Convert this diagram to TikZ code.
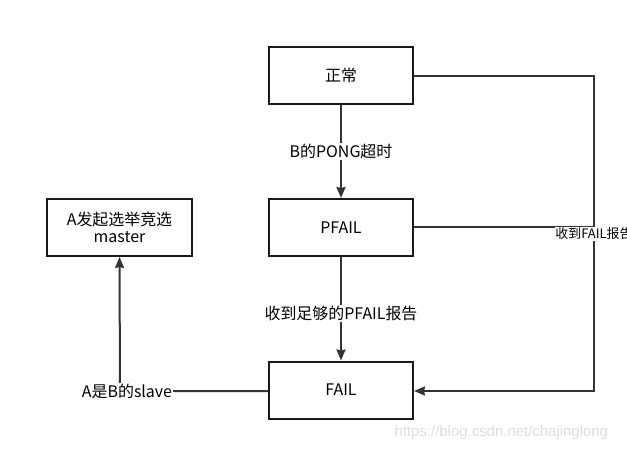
\documentclass[tikz,border=0pt]{standalone}
\usepackage{fontspec}
\setmainfont{Noto Sans CJK SC}
\newfontfamily\wmfont{Liberation Sans}
\usetikzlibrary{arrows.meta}
\begin{document}
\begin{tikzpicture}[x=1bp,y=-1bp,
  statebox/.style={draw=black!90,line width=2bp,minimum width=144bp,minimum height=57bp,inner sep=0pt,font=\fontsize{16}{19}\selectfont,align=center},
  conn/.style={draw=black!80,line width=2bp},
  arr/.style={conn,-{Stealth[length=11bp,width=9bp,inset=1bp]}},
  lbl/.style={fill=white,inner sep=1bp,font=\fontsize{16}{19}\selectfont},
  slbl/.style={fill=white,inner sep=0.5bp,font=\fontsize{13}{15}\selectfont}]
\useasboundingbox[fill=white] (0,0) rectangle (627,451);
\node[statebox] (normal) at (341,75.5) {正常};
\node[statebox] (pfail) at (341,227.5) {PFAIL};
\node[statebox] (fail) at (341,390) {FAIL};
\node[statebox,minimum width=145bp] (elect) at (119.5,227.5) {A发起选举竞选\\[-2bp]master};
\coordinate (rtop) at (594,76);
\coordinate (rbot) at (594,391);
\coordinate (rmid) at (594,227);
\coordinate (lcorner) at (120,391);
\draw[arr] (normal) -- node[lbl] (l1) {B的PONG超时} (pfail);
\draw[arr] (pfail) -- node[lbl,pos=0.55] (l2) {收到足够的PFAIL报告} (fail);
\draw[arr] (normal.east |- rtop) -- (rtop) -- (rbot) -- (fail.east |- rbot);
\draw[conn] (pfail.east |- rmid) -- (rmid);
\node[slbl] (l3) at (594,234) {收到FAIL报告};
\draw[arr] (fail.west |- lcorner) -- (lcorner) -- (elect.south);
\node[lbl] (l4) at (127,391) {A是B的slave};
\node[text=black!13,font=\wmfont\fontsize{15}{18}\selectfont,anchor=west] (wm) at (391,433) {https://blog.csdn.net/chajinglong};
\end{tikzpicture}
\end{document}
